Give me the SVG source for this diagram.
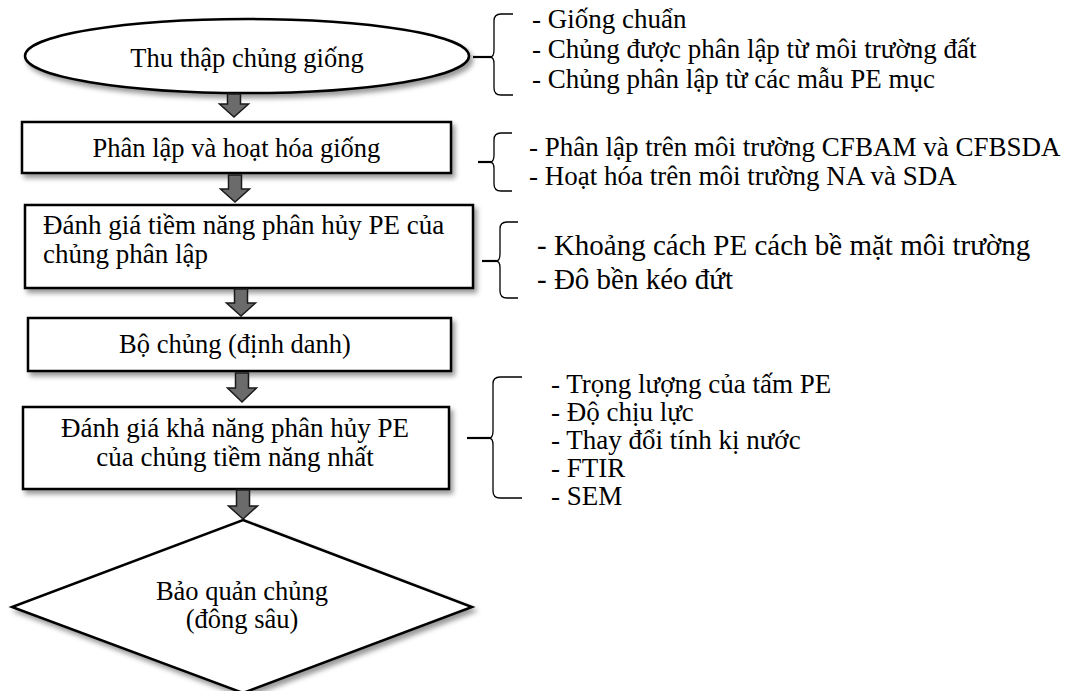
<svg xmlns="http://www.w3.org/2000/svg" width="1065" height="691" viewBox="0 0 1065 691">
<defs>
<filter id="sh" x="-10%" y="-20%" width="130%" height="150%">
<feDropShadow dx="3" dy="4" stdDeviation="2.5" flood-color="#000" flood-opacity="0.4"/>
</filter>
<style>
.shape{fill:#fff;stroke:#000;stroke-width:2.5;filter:url(#sh)}
.t{font-family:"Liberation Serif","Times New Roman",serif;font-size:26.5px;fill:#000}
.r{font-size:27px}
.big{font-size:29px}
.c{text-anchor:middle}
.arr{fill:#6b6b6b;stroke:#1a1a1a;stroke-width:1.5;stroke-linejoin:miter}
.brace{fill:none;stroke:#000;stroke-width:1.3}
.stub{stroke:#000;stroke-width:2.2}
</style>
</defs>
<rect width="1065" height="691" fill="#fff"/>
<g id="n1">
<ellipse class="shape" cx="247" cy="56" rx="222" ry="37"/>
<text class="t c" x="247" y="67">Thu thập chủng giống</text>
</g>
<g id="n2">
<rect class="shape" x="22" y="122" width="429" height="51"/>
<text class="t c" x="236.5" y="157">Phân lập và hoạt hóa giống</text>
</g>
<g id="n3">
<rect class="shape" x="25" y="205" width="448" height="83"/>
<text class="t r" x="43" y="234">Đánh giá tiềm năng phân hủy PE của</text>
<text class="t r" x="43" y="263">chủng phân lập</text>
</g>
<g id="n4">
<rect class="shape" x="28" y="318" width="423" height="53"/>
<text class="t c" x="235" y="353">Bộ chủng (định danh)</text>
</g>
<g id="n5">
<rect class="shape" x="23" y="407" width="426" height="82"/>
<text class="t r c" x="235" y="437">Đánh giá khả năng phân hủy PE</text>
<text class="t r c" x="235" y="466">của chủng tiềm năng nhất</text>
</g>
<g id="n6">
<polygon class="shape" points="243,520 472,607 243,693 12,607"/>
<text class="t c" x="242" y="600">Bảo quản chủng</text>
<text class="t c" x="242" y="628">(đông sâu)</text>
</g>
<g id="connectors">
<path class="arr" d="M227.5,94 H240.5 V104 H248.5 L234,117 L219.5,104 H227.5 Z"/>
<path class="arr" d="M228.5,175 H241.5 V189 H249.5 L235,202 L220.5,189 H228.5 Z"/>
<path class="arr" d="M234.5,289 H247.5 V303 H255.5 L241,316 L226.5,303 H234.5 Z"/>
<path class="arr" d="M235.5,373 H248.5 V388 H256.5 L242,402 L227.5,388 H235.5 Z"/>
<path class="arr" d="M236.5,490 H249.5 V506 H257.5 L243,519 L228.5,506 H236.5 Z"/>
</g>
<g id="note1">
<path class="brace" d="M513,14 H501 Q494,14 494,21 V50 Q494,57 490,57 Q494,57 494,64 V88 Q494,95 501,95 H513"/>
<line class="stub" x1="473" y1="57" x2="491" y2="57"/>
<text class="t r" x="532" y="28">- Giống chuẩn</text>
<text class="t r" x="532" y="58">- Chủng được phân lập từ môi trường đất</text>
<text class="t r" x="532" y="88">- Chủng phân lập từ các mẫu PE mục</text>
</g>
<g id="note2">
<path class="brace" d="M512,133 H501 Q494,133 494,140 V155 Q494,162 490,162 Q494,162 494,169 V184 Q494,191 501,191 H512"/>
<line class="stub" x1="478" y1="162" x2="491" y2="162"/>
<text class="t r" x="529" y="156">- Phân lập trên môi trường CFBAM và CFBSDA</text>
<text class="t r" x="529" y="185">- Hoạt hóa trên môi trường NA và SDA</text>
</g>
<g id="note3">
<path class="brace" d="M518,222 H507 Q500,222 500,229 V254 Q500,261 496,261 Q500,261 500,268 V291 Q500,298 507,298 H518"/>
<line class="stub" x1="482" y1="261" x2="497" y2="261"/>
<text class="t big" x="537" y="255">- Khoảng cách PE cách bề mặt môi trường</text>
<text class="t big" x="537" y="289">- Đô bền kéo đứt</text>
</g>
<g id="note4">
<path class="brace" d="M522,377 H500 Q493,377 493,384 V431 Q493,438 489,438 Q493,438 493,445 V491 Q493,498 500,498 H522"/>
<line class="stub" x1="467" y1="438" x2="490" y2="438"/>
<text class="t r" x="551" y="393">- Trọng lượng của tấm PE</text>
<text class="t r" x="551" y="421">- Độ chịu lực</text>
<text class="t r" x="551" y="449">- Thay đổi tính kị nước</text>
<text class="t r" x="551" y="477">- FTIR</text>
<text class="t r" x="551" y="505">- SEM</text>
</g>
</svg>
